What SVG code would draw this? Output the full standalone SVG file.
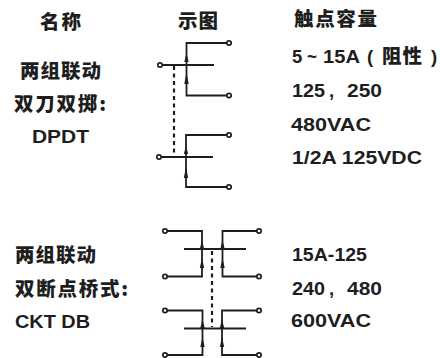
<svg xmlns="http://www.w3.org/2000/svg" width="440" height="358" viewBox="0 0 440 358">
<defs>
<style>
.t{font-family:"Liberation Sans","Noto Sans CJK SC",sans-serif;font-weight:700;font-size:18.500px;fill:#1e1e1e}
.c{font-family:"Noto Sans CJK SC","Liberation Sans",sans-serif;font-weight:900;font-size:19.500px;fill:#1e1e1e}
.l{fill:none;stroke:#1e1e1e;stroke-width:1.800}
.d{fill:none;stroke:#1e1e1e;stroke-width:2.200;stroke-dasharray:4 3.500}
.o{fill:#fff;stroke:#1e1e1e;stroke-width:1.700}
.a{fill:#1e1e1e}
</style>
</defs>
<rect width="440" height="358" fill="#fff"/>
<g id="connectors">
<path class="l" d="M229 43H186.500V95.500H229M160 65H214M229 135H186V187H229M159 157H213"/>
<path class="d" d="M174 66V154"/>
<path class="a" d="M186.500 53l-2.200 9h4.400zM186.500 72l-2.200 12h4.400zM186 146l-2.200 8h4.400zM186 167l-2.200 11h4.400z"/>
<path class="l" d="M165 231H202V276.500H165M184 249H246M165 310.500H202.500V355H165M184 328.500H246M259 231H222.500V276.500H259M259 310.500H222V355H259"/>
<path class="d" d="M212 251V327"/>
<path class="a" d="M202 240l-2.200 9h4.400zM202 258l-2.200 10h4.400zM222.500 240l-2.200 9h4.400zM222.500 258l-2.200 10h4.400zM202.500 319l-2.200 9h4.400zM202.500 337l-2.200 10h4.400zM222 319l-2.200 9h4.400zM222 337l-2.200 10h4.400z"/>
</g>
<g id="circles">
<circle class="o" cx="160" cy="65" r="2.200"/><circle class="o" cx="229" cy="43" r="2.200"/><circle class="o" cx="229" cy="95.500" r="2.200"/>
<circle class="o" cx="159" cy="157" r="2.200"/><circle class="o" cx="229" cy="135" r="2.200"/><circle class="o" cx="229" cy="187" r="2.200"/>
<circle class="o" cx="165" cy="231" r="2.200"/><circle class="o" cx="165" cy="276.500" r="2.200"/><circle class="o" cx="165" cy="310.500" r="2.200"/><circle class="o" cx="165" cy="355" r="2.200"/>
<circle class="o" cx="259" cy="231" r="2.200"/><circle class="o" cx="259" cy="276.500" r="2.200"/><circle class="o" cx="259" cy="310.500" r="2.200"/><circle class="o" cx="259" cy="355" r="2.200"/>
</g>
<g id="labels">
<text class="c" x="40" y="29" textLength="41">名称</text>
<text class="c" x="178" y="28" textLength="40">示图</text>
<text class="c" x="294" y="25.500" textLength="83">触点容量</text>
<text class="c" x="20" y="78" textLength="81">两组联动</text>
<text class="c" x="14" y="110.500" textLength="92">双刀双掷:</text>
<text class="t" x="32" y="143" textLength="57" lengthAdjust="spacingAndGlyphs">DPDT</text>
<text class="t" x="292" y="62.500">5</text>
<text class="t" x="307" y="62.500" textLength="10" lengthAdjust="spacingAndGlyphs">~</text>
<text class="t" x="323" y="62.500" textLength="37" lengthAdjust="spacingAndGlyphs">15A</text>
<text class="t" x="367" y="62.500">(</text>
<text class="c" x="382" y="62.500" textLength="40">阻性</text>
<text class="t" x="431" y="62.500">)</text>
<text class="t" x="292" y="97" textLength="33" lengthAdjust="spacingAndGlyphs">125</text>
<text class="t" x="329" y="97">,</text>
<text class="t" x="347" y="97" textLength="35" lengthAdjust="spacingAndGlyphs">250</text>
<text class="t" x="291" y="130.500" textLength="80" lengthAdjust="spacingAndGlyphs">480VAC</text>
<text class="t" x="292" y="164" textLength="130" lengthAdjust="spacingAndGlyphs">1/2A 125VDC</text>
<text class="c" x="15" y="262" textLength="81">两组联动</text>
<text class="c" x="15" y="295.500" textLength="113">双断点桥式:</text>
<text class="t" x="15" y="328" textLength="75" lengthAdjust="spacingAndGlyphs">CKT DB</text>
<text class="t" x="292" y="260.500" textLength="75" lengthAdjust="spacingAndGlyphs">15A-125</text>
<text class="t" x="292" y="295" textLength="33" lengthAdjust="spacingAndGlyphs">240</text>
<text class="t" x="329" y="295">,</text>
<text class="t" x="347" y="295" textLength="35" lengthAdjust="spacingAndGlyphs">480</text>
<text class="t" x="291" y="327" textLength="80" lengthAdjust="spacingAndGlyphs">600VAC</text>
</g>
</svg>
